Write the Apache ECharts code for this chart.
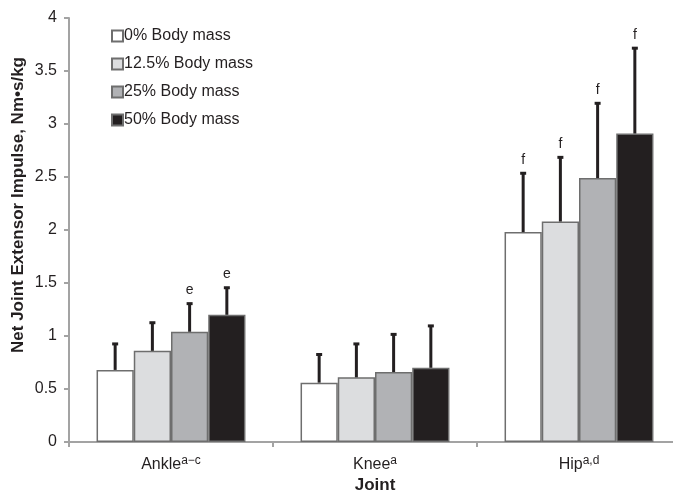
<!DOCTYPE html>
<html>
<head>
<meta charset="utf-8">
<script src="https://cdn.jsdelivr.net/npm/echarts@6/dist/echarts.min.js"></script>
<style>
  html, body { margin: 0; padding: 0; background: #fff; }
  #chart { width: 673px; height: 492px; }
</style>
</head>
<body>
<div id="chart"></div>
<script>
const joints = ['Ankle', 'Knee', 'Hip']
const jointSup = ['a\u2212c', 'a', 'a,d']
const loads = ['0% Body mass', '12.5% Body mass', '25% Body mass', '50% Body mass']

// mean net joint extensor impulse per load (Ankle, Knee, Hip)
const mass0 = [0.68, 0.56, 1.98]
const mass12 = [0.86, 0.61, 2.08]
const mass25 = [1.04, 0.66, 2.49]
const mass50 = [1.20, 0.70, 2.91]

// standard deviations (upper whisker only)
const sd0 = [0.25, 0.27, 0.56]
const sd12 = [0.27, 0.32, 0.61]
const sd25 = [0.27, 0.36, 0.71]
const sd50 = [0.26, 0.40, 0.81]

// significance letters above whiskers
const note0 = ['', '', 'f']
const note12 = ['', '', 'f']
const note25 = ['e', '', 'f']
const note50 = ['e', '', 'f']

const yTicks = [0, 0.5, 1, 1.5, 2, 2.5, 3, 3.5, 4]

const means = [mass0, mass12, mass25, mass50]
const sds = [sd0, sd12, sd25, sd50]
const notes = [note0, note12, note25, note50]
const fills = ['#ffffff', '#dcdddf', '#b1b2b5', '#231f20']
const gap = 0.27
const font = 'Liberation Sans, Arial, sans-serif'
const ink = '#231f20'

const errData = []
const errNotes = []
means.forEach((arr, k) => {
  arr.forEach((v, c) => {
    errData.push([c, k, v, sds[k][c]])
    errNotes.push(notes[k][c])
  })
})

const renderError = (params, api) => {
  const c = api.value(0)
  const k = api.value(1)
  const m = api.value(2)
  const base = api.coord([c, m])
  const tip = api.coord([c, m + api.value(3)])
  const band = api.size([1, 0])[0]
  const barW = band * (1 - gap) / 4
  const x = base[0] + (k - 1.5) * barW
  const children = [
    { type: 'line', shape: { x1: x, y1: base[1], x2: x, y2: tip[1] }, style: { stroke: ink, lineWidth: 3 } },
    { type: 'rect', shape: { x: x - 3, y: tip[1] - 1, width: 6, height: 3 }, style: { fill: ink } }
  ]
  const note = errNotes[params.dataIndex]
  if (note) {
    children.push({
      type: 'text',
      style: { x: x, y: tip[1] - 6, text: note, fill: ink, font: '14px ' + font, align: 'center', verticalAlign: 'bottom' }
    })
  }
  return { type: 'group', children }
}

const chart = echarts.init(document.getElementById('chart'))
chart.setOption({
  animation: false,
  textStyle: { fontFamily: font, color: ink },
  grid: { left: 69, top: 18, width: 612, height: 424, outerBoundsMode: 'none' },
  legend: {
    orient: 'vertical',
    left: 106,
    top: 23,
    itemWidth: 11,
    itemHeight: 11,
    itemGap: 12,
    icon: 'rect',
    textStyle: { fontSize: 16, color: ink, fontFamily: font, padding: [0, 0, 0, -4] },
    data: loads
  },
  xAxis: {
    type: 'category',
    data: joints,
    name: 'Joint',
    nameLocation: 'middle',
    nameGap: 35,
    nameMoveOverlap: false,
    nameTextStyle: { fontSize: 17, fontWeight: 'bold', color: ink },
    axisLine: { lineStyle: { color: '#a3a3a3', width: 2 } },
    axisTick: { show: true, length: 5, lineStyle: { color: '#a3a3a3', width: 2 } },
    axisLabel: {
      margin: 13,
      formatter: (v, i) => '{n|' + v + '}{s|' + jointSup[i] + '}',
      rich: {
        n: { fontSize: 16, color: ink, fontFamily: font, lineHeight: 20 },
        s: { fontSize: 12, color: ink, fontFamily: font, verticalAlign: 'top', lineHeight: 20, padding: [0, 0, 10, 0] }
      }
    }
  },
  yAxis: {
    type: 'value',
    min: yTicks[0],
    max: yTicks[yTicks.length - 1],
    interval: yTicks[1] - yTicks[0],
    name: 'Net Joint Extensor Impulse, Nm\u2022s/kg',
    nameLocation: 'middle',
    nameGap: 42,
    nameMoveOverlap: false,
    nameTextStyle: { fontSize: 17, fontWeight: 'bold', color: ink, padding: [0, 0, 0, 50] },
    axisLine: { show: true, lineStyle: { color: '#a3a3a3', width: 2 } },
    axisTick: { show: true, length: 5, lineStyle: { color: '#a3a3a3', width: 2 } },
    axisLabel: { fontSize: 16, color: ink, margin: 12 },
    splitLine: { show: false }
  },
  series: [
    ...means.map((arr, k) => ({
      name: loads[k],
      type: 'bar',
      data: arr,
      barGap: '0%',
      barCategoryGap: (gap * 100) + '%',
      itemStyle: { color: fills[k], borderColor: '#6e6e6e', borderWidth: 1.5 }
    })),
    {
      name: 'sd',
      type: 'custom',
      data: errData,
      renderItem: renderError,
      z: 5,
      silent: true
    }
  ]
})
</script>
</body>
</html>
